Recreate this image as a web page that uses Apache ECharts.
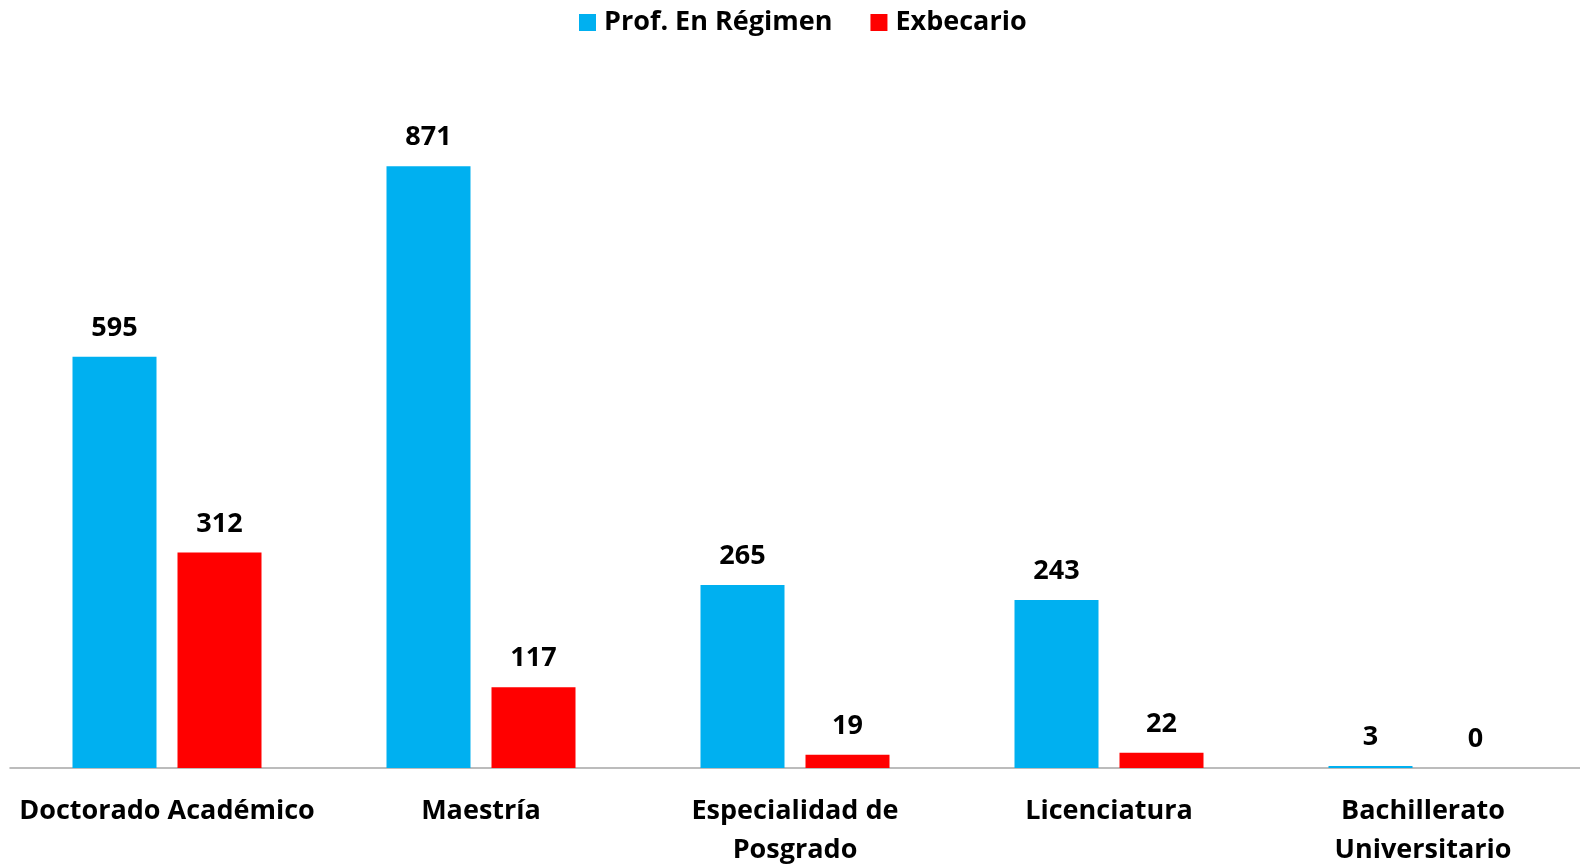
<!DOCTYPE html>
<html><head><meta charset="utf-8">
<script src="https://cdn.jsdelivr.net/npm/echarts@6/dist/echarts.min.js"></script>
<style>html,body{margin:0;padding:0;background:#fff}#c{width:1580px;height:865px}</style>
</head><body><div id="c"></div>
<script>
const categories = ["Doctorado Académico", "Maestría", "Especialidad de\nPosgrado", "Licenciatura", "Bachillerato\nUniversitario"];
const seriesNames = ["Prof. En Régimen", "Exbecario"];
const profRegimen = [595, 871, 265, 243, 3];
const exbecario = [312, 117, 19, 22, 0];
const colors = ["#00B0F0", "#FF0000"];
const FONT = "'Open Sans', sans-serif";

const chart = echarts.init(document.getElementById('c'));
const lbl = {show: true, position: 'top', distance: 15, color: '#000', fontSize: 27, fontWeight: 'bold', fontFamily: FONT};
chart.setOption({
  animation: false,
  textStyle: {fontFamily: FONT},
  legend: {
    top: 4, left: 574, itemWidth: 17, itemHeight: 17, itemGap: 38,
    icon: 'rect',
    textStyle: {fontSize: 27, fontWeight: 'bold', color: '#000', fontFamily: FONT, padding: [0, 0, 0, 3]},
    data: seriesNames
  },
  grid: {left: 10, right: 0, top: 77, bottom: 97, containLabel: false, outerBoundsMode: 'none'},
  xAxis: {
    type: 'category', data: categories,
    axisLine: {lineStyle: {color: '#A6A6A6', width: 1.5}},
    axisTick: {show: false},
    axisLabel: {color: '#000', fontSize: 27, fontWeight: 'bold', fontFamily: FONT, margin: 24, lineHeight: 39, interval: 0}
  },
  yAxis: {type: 'value', min: 0, max: 1000, show: false, splitLine: {show: false}},
  series: [
    {name: seriesNames[0], type: 'bar', data: profRegimen, barWidth: 84, barGap: '25%', itemStyle: {color: colors[0]}, label: lbl},
    {name: seriesNames[1], type: 'bar', data: exbecario, barWidth: 84, itemStyle: {color: colors[1]}, label: lbl}
  ]
});
</script></body></html>
